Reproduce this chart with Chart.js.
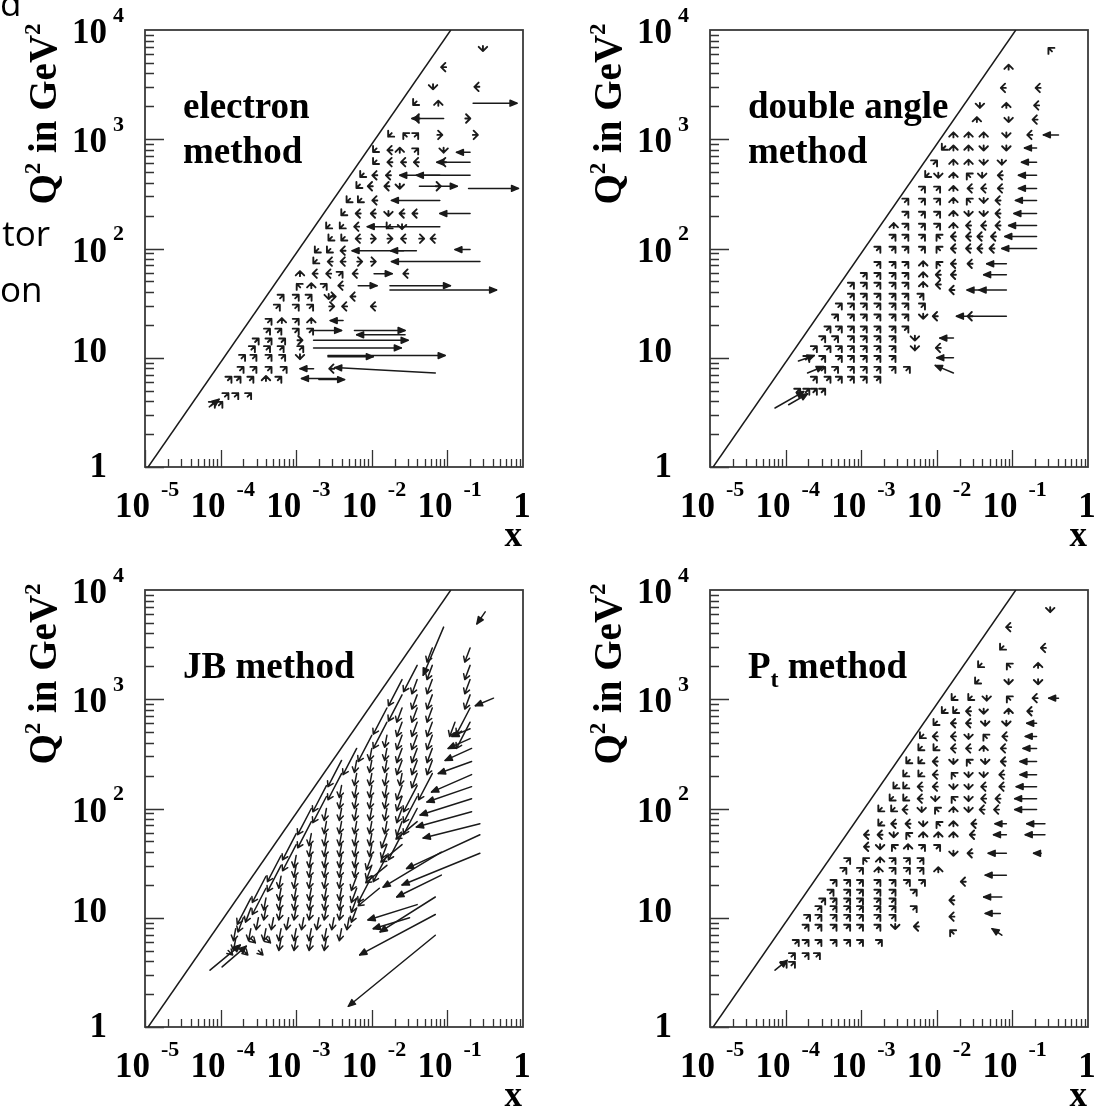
<!DOCTYPE html>
<html>
<head>
<meta charset="utf-8">
<title>Migrations in x-Q2</title>
<script src="https://cdn.jsdelivr.net/npm/chart.js@4.4.1/dist/chart.umd.min.js"></script>
<style>
  body { margin: 0; background: #fff; width: 1109px; height: 1110px; position: relative; overflow: hidden; }
  canvas { position: absolute; }
  .frag { position: absolute; left: 0; font-family: "Open Sans", sans-serif; font-size: 35px; line-height: 34px; color: #000; text-align: right; white-space: nowrap; }
</style>
</head>
<body>
<canvas id="c-electron" width="555" height="555" style="left:0;top:0"></canvas>
<canvas id="c-da" width="554" height="555" style="left:555px;top:0"></canvas>
<canvas id="c-jb" width="555" height="555" style="left:0;top:555px"></canvas>
<canvas id="c-pt" width="554" height="555" style="left:555px;top:555px"></canvas>
<div class="frag" style="top:-14px;width:16px">d</div>
<div class="frag" style="top:216px;width:50px">tor</div>
<div class="frag" style="top:272px;width:34px">on</div>
<script>
// axis ticks and labels
const xTickValues = [1e-5, 1e-4, 1e-3, 1e-2, 1e-1, 1];
const xTickBases = ["10", "10", "10", "10", "10", "1"];
const xTickExps = ["-5", "-4", "-3", "-2", "-1", ""];
const yTickValues = [1, 10, 100, 1000, 10000];
const yTickBases = ["1", "10", "10", "10", "10"];
const yTickExps = ["", "", "2", "3", "4"];

// kinematic limit y = 1 (Q2 = s x)
const kinLine = [[1.1e-5, 1], [0.111, 1e4]];

// rows: [log10 Q2, log10 x of each bin, migration direction of each small arrow]
// digits give the direction of short arrows (numpad: 8 up, 2 down, 4 left, 6 right, 9 up-right ...)
const elecRows = [
  [3.83, [-0.53], "2"],
  [3.66, [-1.05], "4"],
  [3.48, [-1.19, -0.61], "24"],
  [3.33, [-1.43, -1.12], "18"],
  [3.19, [-1.40, -0.73], "46"],
  [3.04, [-1.76, -1.56, -1.41, -1.10, -0.63], "17966"],
  [2.90, [-1.96, -1.76, -1.63, -1.41, -1.05], "14892"],
  [2.79, [-1.96, -1.76, -1.58, -1.41, -1.05], "14444"],
  [2.67, [-2.13, -1.96, -1.78], "144"],
  [2.57, [-2.18, -2.02, -1.80, -1.63, -1.12], "14426"],
  [2.44, [-2.31, -2.16, -1.96], "114"],
  [2.32, [-2.38, -2.18, -1.98, -1.78, -1.60, -1.43], "144244"],
  [2.20, [-2.58, -2.40, -2.20, -1.78, -1.60], "11412"],
  [2.09, [-2.55, -2.38, -2.18, -1.98, -1.76, -1.58, -1.34, -1.19], "11466464"],
  [1.98, [-2.73, -2.57, -2.38], "114"],
  [1.88, [-2.75, -2.55, -2.38, -2.16, -1.98], "14466"],
  [1.77, [-2.95, -2.75, -2.57, -2.41, -2.22, -1.55], "844944"],
  [1.66, [-2.97, -2.80, -2.62, -2.41], "7894"],
  [1.56, [-3.19, -2.99, -2.82, -2.57, -2.51, -2.25], "999264"],
  [1.47, [-3.24, -2.99, -2.80, -2.53, -2.36, -1.98], "999644"],
  [1.34, [-3.35, -3.19, -2.99, -2.80], "9898"],
  [1.25, [-3.37, -3.22, -2.99, -2.80], "9999"],
  [1.16, [-3.52, -3.35, -3.17, -2.95], "9996"],
  [1.09, [-3.57, -3.37, -3.19, -2.93], "9999"],
  [1.01, [-3.70, -3.55, -3.35, -3.17, -2.95], "99992"],
  [0.90, [-3.72, -3.55, -3.35, -3.15, -2.53], "99994"],
  [0.81, [-3.88, -3.76, -3.59, -3.40, -3.22], "99989"],
  [0.66, [-3.92, -3.79, -3.62], "999"],
  [0.58, [-4.10, -4.00], "99"],
];
// long arrows: [log10 x from, log10 Q2 from, log10 x to, log10 Q2 to]
const elecLong = [
  [-0.66, 3.33, -0.08, 3.33], [-1.05, 3.19, -1.47, 3.19], [-0.70, 2.88, -0.88, 2.88],
  [-0.70, 2.79, -1.14, 2.79], [-1.10, 2.67, -1.63, 2.67], [-0.70, 2.67, -1.41, 2.67],
  [-1.37, 2.57, -0.87, 2.57], [-0.72, 2.55, -0.06, 2.55], [-1.10, 2.44, -1.74, 2.44],
  [-0.70, 2.32, -1.10, 2.32], [-1.10, 2.20, -2.06, 2.20], [-1.41, 1.98, -2.26, 1.98],
  [-1.58, 1.98, -1.75, 1.98], [-0.70, 1.99, -0.90, 1.99], [-0.57, 1.88, -1.74, 1.88],
  [-1.97, 1.77, -1.73, 1.77], [-2.18, 1.66, -1.93, 1.66], [-1.76, 1.66, -0.96, 1.66],
  [-1.76, 1.62, -0.35, 1.62], [-2.38, 1.34, -2.55, 1.34], [-2.77, 1.25, -2.40, 1.25],
  [-2.23, 1.25, -1.56, 1.25], [-1.56, 1.21, -2.20, 1.21], [-2.77, 1.16, -1.52, 1.16],
  [-2.77, 1.09, -1.61, 1.09], [-2.58, 1.02, -1.03, 1.02], [-2.58, 1.01, -1.98, 1.01],
  [-2.77, 0.90, -2.95, 0.90], [-1.16, 0.86, -2.49, 0.91], [-2.40, 0.81, -2.93, 0.81],
  [-2.70, 0.80, -2.36, 0.80], [-4.15, 0.55, -4.02, 0.62],
];

const daRows = [
  [3.82, [-0.50], "7"],
  [3.66, [-1.05], "8"],
  [3.47, [-1.12, -0.66], "44"],
  [3.31, [-1.43, -1.08, -0.68], "284"],
  [3.18, [-1.47, -1.05, -0.70], "824"],
  [3.04, [-1.78, -1.58, -1.38, -1.08, -0.77], "88824"],
  [2.92, [-1.91, -1.78, -1.58, -1.38, -1.08], "18822"],
  [2.79, [-2.02, -1.78, -1.58, -1.38, -1.14], "98822"],
  [2.67, [-2.13, -1.98, -1.78, -1.58, -1.40, -1.16], "128724"],
  [2.55, [-2.18, -1.98, -1.78, -1.56, -1.38, -1.16], "998444"],
  [2.44, [-2.40, -2.18, -1.98, -1.78, -1.58, -1.38, -1.19], "9998724"],
  [2.32, [-2.40, -2.18, -1.98, -1.78, -1.58, -1.38, -1.19], "9998224"],
  [2.21, [-2.57, -2.40, -2.18, -1.98, -1.78, -1.58, -1.38, -1.19], "89998444"],
  [2.11, [-2.57, -2.40, -2.18, -1.98, -1.78, -1.58, -1.43, -1.25], "99974444"],
  [2.00, [-2.77, -2.57, -2.40, -2.18, -1.98, -1.78, -1.58, -1.43, -1.27], "999974444"],
  [1.86, [-2.77, -2.57, -2.40, -2.18, -1.98, -1.78, -1.56], "9998744"],
  [1.76, [-2.95, -2.77, -2.57, -2.40, -2.18, -1.98, -1.78], "9999844"],
  [1.67, [-3.12, -2.95, -2.77, -2.57, -2.40, -2.18, -1.98], "9999984"],
  [1.62, [-1.80], "4"],
  [1.57, [-3.12, -2.95, -2.77, -2.57, -2.40, -2.20], "999999"],
  [1.48, [-3.28, -3.12, -2.95, -2.77, -2.57, -2.40, -2.18], "9999999"],
  [1.38, [-3.33, -3.12, -2.95, -2.77, -2.57, -2.40, -2.18, -2.02, -1.56], "999999244"],
  [1.27, [-3.43, -3.28, -3.12, -2.95, -2.77, -2.57, -2.40], "9999999"],
  [1.18, [-3.50, -3.33, -3.12, -2.95, -2.77, -2.57, -2.29], "9999992"],
  [1.09, [-3.61, -3.43, -3.28, -3.12, -2.95, -2.77, -2.57, -2.29, -1.98], "999999924"],
  [1.00, [-3.71, -3.50, -3.28, -3.12, -2.95, -2.77, -2.57], "9999999"],
  [0.90, [-3.50, -3.33, -3.12, -2.95, -2.77, -2.57, -2.38], "9999999"],
  [0.81, [-3.61, -3.43, -3.28, -3.12, -2.95, -2.77], "999999"],
  [0.70, [-3.83, -3.71, -3.61, -3.50], "9999"],
];
const daLong = [
  [-0.39, 3.04, -0.59, 3.04], [-0.68, 2.92, -0.84, 2.92], [-0.68, 2.79, -0.88, 2.79],
  [-0.68, 2.67, -0.92, 2.67], [-0.68, 2.55, -0.92, 2.55], [-0.68, 2.44, -0.96, 2.44],
  [-0.68, 2.32, -0.98, 2.32], [-0.68, 2.21, -1.05, 2.21], [-0.68, 2.11, -1.10, 2.11],
  [-0.68, 2.00, -1.14, 2.00], [-1.08, 1.86, -1.34, 1.86], [-1.08, 1.76, -1.38, 1.76],
  [-1.40, 1.62, -1.60, 1.62], [-1.08, 1.62, -1.44, 1.62], [-1.08, 1.38, -1.74, 1.38],
  [-1.78, 1.18, -1.96, 1.18], [-1.78, 1.00, -2.00, 1.00], [-1.78, 0.86, -2.02, 0.93],
  [-3.71, 0.86, -3.50, 0.92], [-3.83, 0.97, -3.62, 1.02], [-4.14, 0.54, -3.76, 0.69],
  [-3.96, 0.57, -3.71, 0.67],
];

// JB letters: shift of the reconstructed point, see jbShift
const jbRows = [
  [3.47, [-1.2, -0.7], "bb"],
  [3.31, [-1.4, -1.2, -0.7], "cbb"],
  [3.18, [-1.6, -1.4, -1.2, -0.7], "cbbb"],
  [3.04, [-1.6, -1.4, -1.2, -0.7], "cbbb"],
  [2.92, [-1.8, -1.6, -1.4, -1.2, -0.7], "cbbbc"],
  [2.79, [-1.8, -1.6, -1.4, -1.2, -0.9, -0.7], "cbbbbc"],
  [2.67, [-2.0, -1.8, -1.6, -1.4, -1.2], "cabbb"],
  [2.55, [-2.2, -2.0, -1.8, -1.6, -1.4, -1.2], "caabbb"],
  [2.44, [-2.4, -2.2, -2.0, -1.8, -1.6, -1.4, -1.2], "caaabbb"],
  [2.32, [-2.4, -2.2, -2.0, -1.8, -1.6, -1.4, -1.2], "caaaabc"],
  [2.21, [-2.6, -2.4, -2.2, -2.0, -1.8, -1.6, -1.4], "caaaabc"],
  [2.11, [-2.6, -2.4, -2.2, -2.0, -1.8, -1.6, -1.4], "caaaabc"],
  [2.00, [-2.8, -2.6, -2.4, -2.2, -2.0, -1.8, -1.6, -1.4], "caaaaabc"],
  [1.88, [-2.8, -2.6, -2.4, -2.2, -2.0, -1.8, -1.6, -1.4], "caaaaabd"],
  [1.77, [-3.0, -2.8, -2.6, -2.4, -2.2, -2.0, -1.8, -1.6], "caaaaabc"],
  [1.67, [-3.0, -2.8, -2.6, -2.4, -2.2, -2.0, -1.8, -1.6], "caaaaabd"],
  [1.57, [-3.2, -3.0, -2.8, -2.6, -2.4, -2.2, -2.0, -1.8], "caaaaabc"],
  [1.48, [-3.2, -3.0, -2.8, -2.6, -2.4, -2.2, -2.0, -1.8], "caaaaabd"],
  [1.38, [-3.4, -3.2, -3.0, -2.8, -2.6, -2.4, -2.2, -2.0], "caaaaabc"],
  [1.27, [-3.4, -3.2, -3.0, -2.8, -2.6, -2.4, -2.2, -1.9], "caaaaabd"],
  [1.18, [-3.6, -3.4, -3.2, -3.0, -2.8, -2.6, -2.4, -2.2], "caaaaaab"],
  [1.09, [-3.6, -3.4, -3.2, -3.0, -2.8, -2.6, -2.4, -2.2], "baaaaaab"],
  [1.00, [-3.7, -3.5, -3.3, -3.1, -2.9, -2.7, -2.5, -2.3], "baaaaaaa"],
  [0.90, [-3.8, -3.6, -3.4, -3.2, -3.0, -2.8, -2.6, -2.4], "aaaaaaaa"],
  [0.81, [-3.8, -3.6, -3.4, -3.2, -3.0, -2.8, -2.6], "affaaaa"],
  [0.70, [-3.9, -3.7, -3.5], "fff"],
];
// [d log10 x, d log10 Q2]
const jbShift = { a: [-0.03, -0.11], b: [-0.07, -0.13], c: [-0.18, -0.24], d: [-0.28, -0.16], f: [0.06, -0.04] };
const jbLong = [
  [-0.50, 3.80, -0.61, 3.69], [-1.05, 3.66, -1.32, 3.22], [-0.39, 3.01, -0.63, 2.94],
  [-0.70, 2.73, -0.94, 2.66], [-0.70, 2.64, -0.99, 2.55], [-0.68, 2.55, -1.03, 2.44],
  [-0.68, 2.43, -1.12, 2.32], [-0.68, 2.31, -1.21, 2.15], [-0.68, 2.20, -1.27, 2.06],
  [-0.68, 2.09, -1.36, 1.94], [-0.68, 1.97, -1.41, 1.83], [-0.57, 1.86, -1.32, 1.73],
  [-0.57, 1.76, -1.54, 1.45], [-0.57, 1.59, -1.60, 1.30], [-1.08, 1.60, -1.85, 1.28],
  [-1.08, 1.39, -1.67, 1.19], [-1.16, 1.19, -1.89, 0.87], [-1.16, 1.03, -2.16, 0.66],
  [-1.16, 0.84, -2.31, 0.19], [-1.50, 1.00, -1.98, 0.90], [-1.40, 1.12, -2.05, 0.98],
  [-4.14, 0.52, -3.74, 0.75], [-3.98, 0.55, -3.66, 0.74],
];

const ptRows = [
  [3.82, [-0.50], "2"],
  [3.66, [-1.05], "4"],
  [3.47, [-1.14, -0.59], "14"],
  [3.31, [-1.43, -1.05, -0.66], "178"],
  [3.16, [-1.47, -1.05, -0.66], "122"],
  [3.01, [-1.78, -1.56, -1.34, -1.05, -0.70], "11274"],
  [2.89, [-1.91, -1.76, -1.58, -1.38, -1.05, -0.77], "114284"],
  [2.78, [-2.02, -1.78, -1.58, -1.36, -1.08], "14422"],
  [2.66, [-2.20, -2.02, -1.78, -1.58, -1.36, -1.10], "144274"],
  [2.55, [-2.22, -2.02, -1.78, -1.58, -1.38, -1.12], "114484"],
  [2.43, [-2.38, -2.22, -2.02, -1.78, -1.58, -1.36, -1.12], "1142724"],
  [2.31, [-2.42, -2.22, -2.02, -1.78, -1.58, -1.38, -1.14], "1147224"],
  [2.20, [-2.55, -2.42, -2.22, -2.02, -1.78, -1.58, -1.38, -1.14], "11442244"],
  [2.09, [-2.60, -2.42, -2.22, -2.02, -1.78, -1.58, -1.38, -1.19], "11427244"],
  [1.99, [-2.75, -2.58, -2.42, -2.20, -2.00, -1.78, -1.58, -1.40, -1.21], "114278244"],
  [1.86, [-2.75, -2.57, -2.38, -2.18, -1.98, -1.78, -1.51], "1442784"],
  [1.76, [-2.93, -2.75, -2.57, -2.38, -2.18, -1.98, -1.78, -1.53], "44278884"],
  [1.65, [-2.93, -2.75, -2.57, -2.38, -2.18, -1.98], "427899"],
  [1.59, [-1.78, -1.56], "24"],
  [1.53, [-3.17, -2.95, -2.75, -2.57, -2.38, -2.20], "978999"],
  [1.44, [-3.22, -3.00, -2.77, -2.57, -2.38, -2.20, -1.98], "9989998"],
  [1.33, [-3.35, -3.17, -3.00, -2.77, -2.57, -2.38, -2.18, -1.65], "99999994"],
  [1.24, [-3.39, -3.17, -3.00, -2.77, -2.57, -2.29], "999999"],
  [1.16, [-3.50, -3.35, -3.17, -3.00, -2.77, -2.57, -1.80], "9999994"],
  [1.09, [-3.55, -3.35, -3.17, -3.00, -2.77, -2.57, -2.29], "9999999"],
  [1.01, [-3.70, -3.55, -3.35, -3.17, -3.00, -2.77, -2.57, -1.80], "99999994"],
  [0.92, [-3.72, -3.55, -3.35, -3.17, -3.00, -2.77, -2.55, -2.27], "99999924"],
  [0.87, [-1.80], "7"],
  [0.78, [-3.85, -3.72, -3.55, -3.35, -3.17, -3.00, -2.75], "9999999"],
  [0.66, [-3.90, -3.72, -3.57], "999"],
  [0.58, [-4.01, -3.90], "99"],
];
const ptLong = [
  [-0.39, 3.01, -0.52, 3.01], [-0.68, 2.78, -0.81, 2.78], [-0.68, 2.66, -0.83, 2.66],
  [-0.68, 2.55, -0.86, 2.55], [-0.68, 2.43, -0.90, 2.43], [-0.68, 2.31, -0.90, 2.31],
  [-0.68, 2.20, -0.95, 2.20], [-0.68, 2.09, -0.97, 2.09], [-0.68, 1.99, -0.97, 1.99],
  [-1.08, 1.86, -1.23, 1.86], [-0.57, 1.86, -0.81, 1.86], [-1.08, 1.76, -1.25, 1.76],
  [-0.57, 1.76, -0.83, 1.76], [-1.08, 1.59, -1.32, 1.59], [-0.62, 1.59, -0.72, 1.59],
  [-1.08, 1.39, -1.36, 1.39], [-1.14, 1.19, -1.38, 1.19], [-1.16, 1.04, -1.36, 1.04],
  [-1.14, 0.84, -1.27, 0.90], [-4.14, 0.52, -3.98, 0.61],
];

const SERIF = '"Liberation Serif", "Times New Roman", serif';
const INK = "#1a1a1a";
const compass = { 1: [-1, 1], 2: [0, 1], 3: [1, 1], 4: [-1, 0], 6: [1, 0], 7: [-1, -1], 8: [0, -1], 9: [1, -1] };

// open head drawn as two strokes, or a filled triangle
function drawArrow(ctx, x0, y0, x1, y1, head, spread, filled) {
  const a = Math.atan2(y1 - y0, x1 - x0);
  const hx1 = x1 - head * Math.cos(a - spread), hy1 = y1 - head * Math.sin(a - spread);
  const hx2 = x1 - head * Math.cos(a + spread), hy2 = y1 - head * Math.sin(a + spread);
  ctx.beginPath();
  ctx.moveTo(x0, y0);
  ctx.lineTo(x1, y1);
  if (!filled) {
    ctx.moveTo(hx1, hy1);
    ctx.lineTo(x1, y1);
    ctx.lineTo(hx2, hy2);
  }
  ctx.stroke();
  if (filled) {
    ctx.beginPath();
    ctx.moveTo(x1, y1);
    ctx.lineTo(hx1, hy1);
    ctx.lineTo(hx2, hy2);
    ctx.closePath();
    ctx.fill();
    ctx.stroke();
  }
}

function textMid(ctx, str, x, y, size, align) {
  ctx.font = `bold ${size}px ${SERIF}`;
  ctx.textAlign = align;
  ctx.textBaseline = "middle";
  ctx.fillText(str, x, y);
}

function migrationPlugin(rows, longArrows, label) {
  return {
    id: "migration",
    beforeDatasetsDraw(chart) {
      const { ctx, chartArea: area, scales: { x, y } } = chart;
      ctx.save();
      ctx.strokeStyle = "#333";
      ctx.lineWidth = 1.3;
      ctx.beginPath();
      for (let d = 0; d < xTickValues.length - 1; d++) {
        for (let m = 1; m < 10; m++) {
          const px = Math.round(x.getPixelForValue(m * xTickValues[d])) + 0.5;
          ctx.moveTo(px, area.bottom);
          ctx.lineTo(px, area.bottom - (m === 1 ? 17 : 8));
        }
      }
      for (let d = 0; d < yTickValues.length - 1; d++) {
        for (let m = 1; m < 10; m++) {
          const py = Math.round(y.getPixelForValue(m * yTickValues[d])) + 0.5;
          ctx.moveTo(area.left, py);
          ctx.lineTo(area.left + (m === 1 ? 19 : 9), py);
        }
      }
      ctx.stroke();
      ctx.lineWidth = 1.8;
      ctx.strokeStyle = "#3a3a3a";
      ctx.strokeRect(area.left, area.top, area.right - area.left, area.bottom - area.top);
      ctx.restore();
    },
    afterDatasetsDraw(chart) {
      const { ctx, scales: { x, y } } = chart;
      const px = (lx) => x.getPixelForValue(10 ** lx);
      const py = (lq) => y.getPixelForValue(10 ** lq);
      ctx.save();
      ctx.strokeStyle = INK;
      ctx.fillStyle = INK;
      ctx.lineCap = "round";
      ctx.lineJoin = "round";
      rows.forEach(([lq, xs, codes]) => {
        xs.forEach((lx, i) => {
          const c = codes[i];
          if (compass[c]) {
            const [ux, uy] = compass[c];
            const n = Math.hypot(ux, uy);
            const cx = px(lx), cy = py(lq);
            ctx.lineWidth = 1.9;
            drawArrow(ctx, cx - 2.5 * ux / n, cy - 2.5 * uy / n, cx + 2.5 * ux / n, cy + 2.5 * uy / n, 6, Math.PI / 4, false);
          } else {
            const [dx, dq] = jbShift[c];
            ctx.lineWidth = 1.5;
            drawArrow(ctx, px(lx), py(lq), px(lx + dx), py(lq + dq), 6, 0.55, false);
          }
        });
      });
      ctx.lineWidth = 1.5;
      longArrows.forEach(([lx0, lq0, lx1, lq1]) => {
        drawArrow(ctx, px(lx0), py(lq0), px(lx1), py(lq1), 7.5, 0.4, true);
      });
      ctx.restore();
    },
    afterDraw(chart) {
      const { ctx, chartArea: area, scales: { x, y } } = chart;
      ctx.save();
      ctx.fillStyle = "#000";
      // y tick labels
      yTickValues.forEach((v, i) => {
        const p = y.getPixelForValue(v);
        const base = yTickBases[i], exp = yTickExps[i];
        const dy = exp ? 4 : (base === "1" ? 1 : -5);
        textMid(ctx, base, area.left - 38, p + dy, 35, "right");
        if (exp) textMid(ctx, exp, area.left - 32, p - 14, 22, "left");
      });
      // x tick labels
      xTickValues.forEach((v, i) => {
        const p = x.getPixelForValue(v);
        const base = xTickBases[i], exp = xTickExps[i];
        if (exp) {
          textMid(ctx, base, p + 5, area.bottom + 41, 35, "right");
          textMid(ctx, exp, p + 16, area.bottom + 23, 22, "left");
        } else {
          textMid(ctx, base, p - 1, area.bottom + 41, 35, "center");
        }
      });
      textMid(ctx, "x", area.right - 1, area.bottom + 70, 35, "right");

      // y axis title, rotated
      ctx.save();
      ctx.translate(area.left - 89, area.top + 84);
      ctx.rotate(-Math.PI / 2);
      ctx.textBaseline = "alphabetic";
      ctx.textAlign = "left";
      const parts = [["Q", 39, 0], ["2", 23, -16], [" in GeV", 39, 0], ["2", 23, -16]];
      let total = 0;
      parts.forEach(([s, size]) => { ctx.font = `bold ${size}px ${SERIF}`; total += ctx.measureText(s).width; });
      let cx = -total / 2;
      parts.forEach(([s, size, rise]) => {
        ctx.font = `bold ${size}px ${SERIF}`;
        ctx.fillText(s, cx, rise);
        cx += ctx.measureText(s).width;
      });
      ctx.restore();

      // method label
      ctx.textBaseline = "alphabetic";
      ctx.textAlign = "left";
      label.forEach((line, k) => {
        let lx = area.left + 38;
        const base = area.top + 88 + k * 45;
        line.forEach(([s, size, drop]) => {
          ctx.font = `bold ${size}px ${SERIF}`;
          ctx.fillText(s, lx, base + drop);
          lx += ctx.measureText(s).width;
        });
      });
      ctx.restore();
    },
  };
}

function makePanel(canvasId, rows, longArrows, label, padding) {
  return new Chart(document.getElementById(canvasId), {
    type: "scatter",
    data: {
      datasets: [{
        data: kinLine.map(([xv, yv]) => ({ x: xv, y: yv })),
        showLine: true,
        borderColor: INK,
        borderWidth: 1.5,
        pointRadius: 0,
      }],
    },
    options: {
      responsive: false,
      animation: false,
      events: [],
      layout: { padding },
      scales: {
        x: { type: "logarithmic", min: 1e-5, max: 1, display: false },
        y: { type: "logarithmic", min: 1, max: 1e4, display: false },
      },
      plugins: { legend: { display: false }, tooltip: { enabled: false } },
    },
    plugins: [migrationPlugin(rows, longArrows, label)],
  });
}

makePanel("c-electron", elecRows, elecLong, [[["electron", 37, 0]], [["method", 37, 0]]],
  { left: 145, top: 30, right: 32, bottom: 88 });
makePanel("c-da", daRows, daLong, [[["double angle", 37, 0]], [["method", 37, 0]]],
  { left: 155, top: 30, right: 21, bottom: 88 });
makePanel("c-jb", jbRows, jbLong, [[["JB method", 37, 0]]],
  { left: 145, top: 35, right: 32, bottom: 83 });
makePanel("c-pt", ptRows, ptLong, [[["P", 37, 0], ["t", 24, 9], [" method", 37, 0]]],
  { left: 155, top: 35, right: 21, bottom: 83 });
</script>
</body>
</html>
